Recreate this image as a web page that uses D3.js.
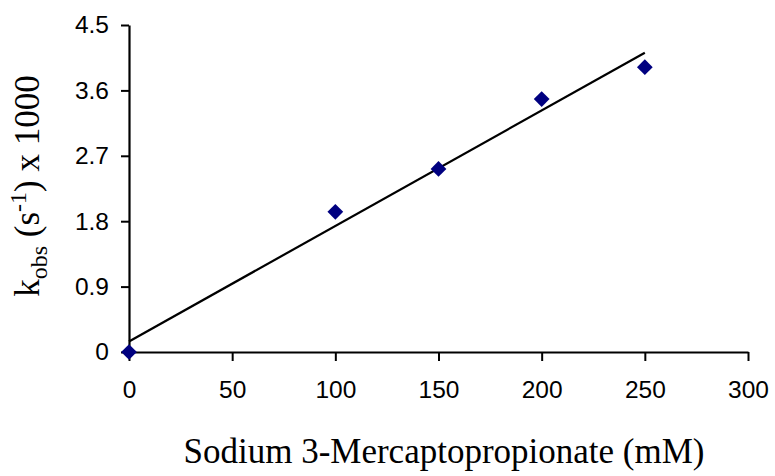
<!DOCTYPE html>
<html>
<head>
<meta charset="utf-8">
<script src="https://cdn.jsdelivr.net/npm/d3@7/dist/d3.min.js"></script>
<style>
  html, body { margin: 0; padding: 0; background: #fff; }
  svg { display: block; }
</style>
</head>
<body>
<svg id="chart" width="775" height="476"></svg>
<script>
// Concentration of sodium 3-mercaptopropionate (mM)
const concentration = [0, 100, 150, 200, 250];
// Observed rate constant k_obs (s^-1) x 1000
const kObs = [0, 1.93, 2.52, 3.48, 3.92];
const xTicks = [0, 50, 100, 150, 200, 250, 300];
const yTicks = [0, 0.9, 1.8, 2.7, 3.6, 4.5];

const svg = d3.select("#chart");
const plot = { left: 129, right: 748, top: 25, bottom: 352 };

const x = d3.scaleLinear().domain([0, 300]).range([plot.left, plot.right]);
const y = d3.scaleLinear().domain([0, 4.5]).range([plot.bottom, plot.top]);

// Axes
const xAxis = svg.append("g")
  .attr("transform", `translate(0,${plot.bottom})`)
  .call(d3.axisBottom(x).tickValues(xTicks).tickSize(9).tickSizeOuter(0).tickPadding(20).tickFormat(d3.format("d")));
const yAxis = svg.append("g")
  .attr("transform", `translate(${plot.left},0)`)
  .call(d3.axisLeft(y).tickValues(yTicks).tickSize(8).tickSizeOuter(0).tickPadding(12)
    .tickFormat(d => d === 0 ? "0" : d3.format(".1f")(d)));

[xAxis, yAxis].forEach(g => {
  g.select(".domain").attr("stroke", "#000").attr("stroke-width", 2.2);
  g.selectAll(".tick line").attr("stroke", "#000").attr("stroke-width", 2);
  g.selectAll(".tick text")
    .attr("fill", "#000")
    .style("font-family", "'Liberation Sans', Arial, sans-serif")
    .style("font-size", "24.5px");
});

// Least-squares trend line through the measurements
const n = concentration.length;
const mx = d3.mean(concentration), my = d3.mean(kObs);
let sxy = 0, sxx = 0;
for (let i = 0; i < n; i++) {
  sxy += (concentration[i] - mx) * (kObs[i] - my);
  sxx += (concentration[i] - mx) ** 2;
}
const slope = sxy / sxx, intercept = my - slope * mx;
const xMin = d3.min(concentration), xMax = d3.max(concentration);
svg.append("line")
  .attr("x1", x(xMin)).attr("y1", y(intercept + slope * xMin))
  .attr("x2", x(xMax)).attr("y2", y(intercept + slope * xMax))
  .attr("stroke", "#000").attr("stroke-width", 2.2);

// Data markers (diamonds)
svg.append("g").selectAll("path")
  .data(concentration.map((c, i) => [c, kObs[i]]))
  .join("path")
  .attr("transform", d => `translate(${x(d[0])},${y(d[1])}) rotate(45)`)
  .attr("d", d3.symbol(d3.symbolSquare, 124))
  .attr("fill", "#000080");

// Axis titles
svg.append("text")
  .attr("x", 444)
  .attr("y", 463)
  .attr("text-anchor", "middle")
  .style("font-family", "'Liberation Serif', 'Times New Roman', serif")
  .style("font-size", "35px")
  .text("Sodium 3-Mercaptopropionate (mM)");

const yt = svg.append("text")
  .attr("transform", `translate(39,186) rotate(-90)`)
  .attr("text-anchor", "middle")
  .style("font-family", "'Liberation Serif', 'Times New Roman', serif")
  .style("font-size", "35px");
yt.append("tspan").text("k");
yt.append("tspan").attr("dy", 8).style("font-size", "24px").text("obs");
yt.append("tspan").attr("dy", -8).text(" (s");
yt.append("tspan").attr("dy", -13).style("font-size", "24px").text("-1");
yt.append("tspan").attr("dy", 13).text(") x 1000");
</script>
</body>
</html>
